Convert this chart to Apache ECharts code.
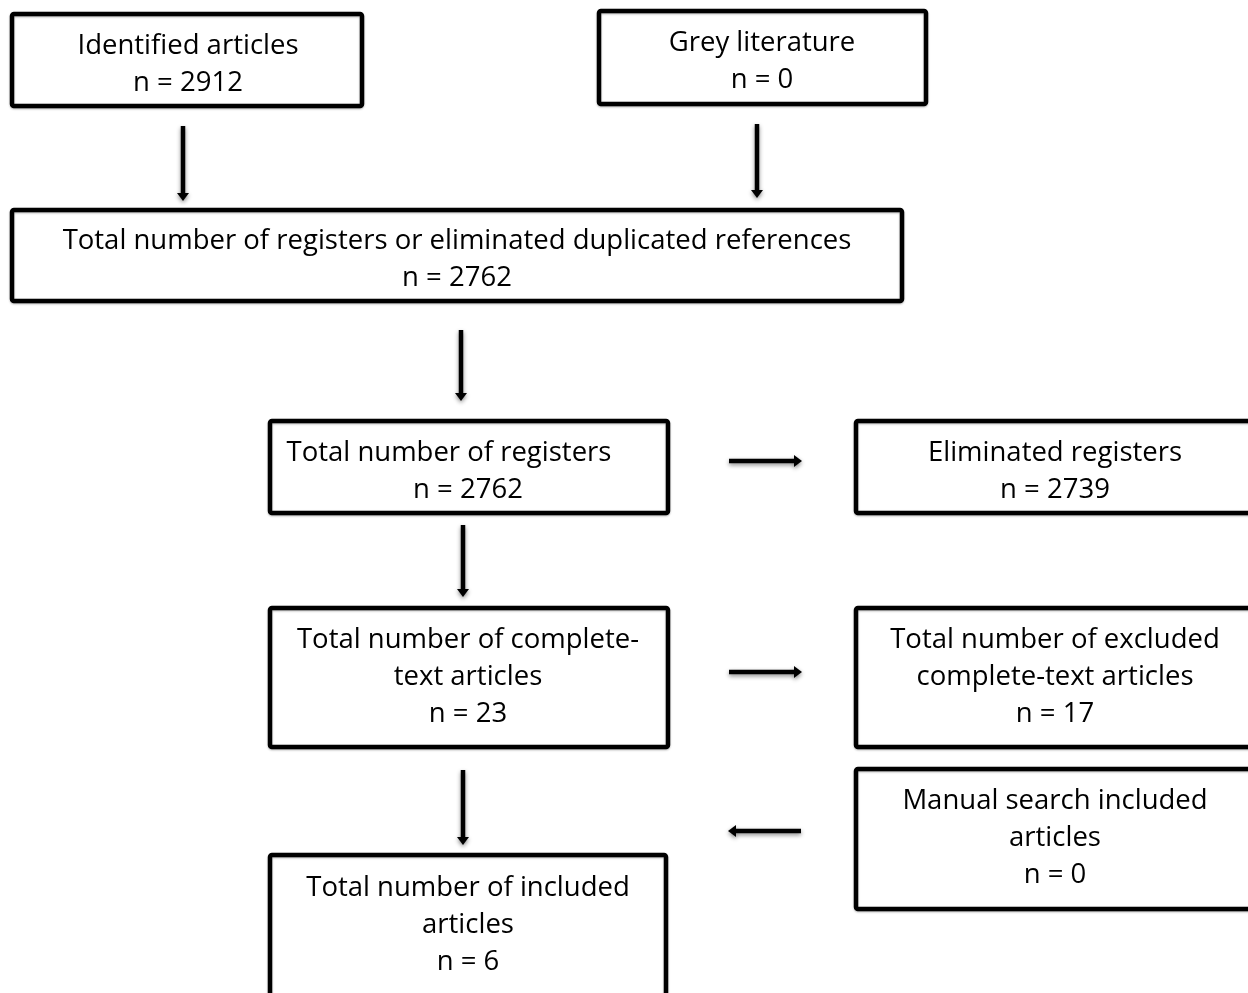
<!DOCTYPE html>
<html><head><meta charset="utf-8">
<script src="https://cdn.jsdelivr.net/npm/echarts@6/dist/echarts.min.js"></script>
<style>html,body{margin:0;padding:0;background:#fff;overflow:hidden}#c{width:1248px;height:993px}</style>
</head><body><div id="c"></div>
<script>
// ---- data ----
const stageTitles = [
  'Identified articles',
  'Grey literature',
  'Total number of registers or eliminated duplicated references',
  'Total number of registers',
  'Eliminated registers',
  'Total number of complete-\ntext articles',
  'Total number of excluded\ncomplete-text articles',
  'Manual search included\narticles',
  'Total number of included\narticles'
];
const stageCounts = [2912, 0, 2762, 2762, 2739, 23, 17, 0, 6];
const flowFrom = [0, 1, 2, 3, 3, 5, 7, 5];
const flowTo   = [2, 2, 3, 4, 5, 6, 8, 8];

// ---- layout (pixel space of the axes) ----
// [x0, y0, x1, y1, textCenterX, firstLineY]
const boxLayout = [
  [10, 12, 364, 108, 188, 46],
  [597, 9, 928, 106, 762, 43],
  [10, 208, 904, 303, 457, 241],
  [268, 419, 670, 515, 468, 453],
  [854, 419, 1262, 515, 1055, 453],
  [268, 606, 670, 749, 468, 640],
  [854, 606, 1262, 749, 1055, 640],
  [854, 767, 1262, 911, 1055, 801],
  [268, 853, 668, 1010, 468, 888]
];
const lineDx = {3: [-19, 0]};
// [xStart, yStart, xEnd, yEnd]
const arrowLayout = [
  [183, 126, 183, 201],
  [757, 124, 757, 198],
  [461, 330, 461, 401],
  [729, 461, 802, 461],
  [463, 525, 463, 597],
  [729, 672, 802, 672],
  [801, 831, 728, 831],
  [463, 770, 463, 845]
];

const FONT = '27.5px "Open Sans", sans-serif';
const LINE_H = 37;

const chart = echarts.init(document.getElementById('c'), null, {renderer: 'canvas'});

function boxItem(params, api) {
  const i = params.dataIndex;
  const L = boxLayout[i];
  const p0 = api.coord([L[0], L[1]]);
  const p1 = api.coord([L[2], L[3]]);
  const lines = (stageTitles[i] + '\nn = ' + stageCounts[i]).split('\n');
  const children = [{
    type: 'rect',
    shape: {x: p0[0] + 2, y: p0[1] + 2, width: p1[0] - p0[0] - 4, height: p1[1] - p0[1] - 4, r: 2},
    style: {fill: '#fff', stroke: '#000', lineWidth: 4.5, shadowBlur: 2, shadowColor: 'rgba(0,0,0,0.3)', shadowOffsetY: 1}
  }];
  lines.forEach((t, k) => {
    const c = api.coord([L[4] + ((lineDx[i] || [])[k] || 0), L[5] + k * LINE_H]);
    children.push({
      type: 'text',
      style: {text: t, x: c[0], y: c[1], align: 'center', verticalAlign: 'middle', font: FONT, fill: '#000'}
    });
  });
  return {type: 'group', children};
}

function arrowItem(params, api) {
  const A = arrowLayout[params.dataIndex];
  const s = api.coord([A[0], A[1]]);
  const e = api.coord([A[2], A[3]]);
  const dx = e[0] - s[0], dy = e[1] - s[1];
  const len = Math.sqrt(dx * dx + dy * dy);
  const ux = dx / len, uy = dy / len;
  const hl = 8, hw = 6;
  const bx = e[0] - ux * hl, by = e[1] - uy * hl;
  const nx = -uy, ny = ux;
  const shadow = {shadowBlur: 4, shadowColor: 'rgba(0,0,0,0.45)', shadowOffsetY: 2, shadowOffsetX: 0};
  return {
    type: 'group',
    children: [
      {type: 'line', shape: {x1: s[0], y1: s[1], x2: bx + ux, y2: by + uy},
       style: Object.assign({stroke: '#000', lineWidth: 4.5}, shadow)},
      {type: 'polygon', shape: {points: [[e[0], e[1]], [bx + nx * hw, by + ny * hw], [bx - nx * hw, by - ny * hw]]},
       style: Object.assign({fill: '#000'}, shadow)}
    ]
  };
}

chart.setOption({
  animation: false,
  backgroundColor: '#fff',
  grid: {left: 0, right: 0, top: 0, bottom: 0},
  xAxis: {type: 'value', min: 0, max: 1248, show: false},
  yAxis: {type: 'value', min: 0, max: 993, inverse: true, show: false},
  series: [
    {type: 'custom', name: 'arrows', clip: false,
     data: flowFrom.map((f, i) => [f, flowTo[i]]), renderItem: arrowItem},
    {type: 'custom', name: 'stages', clip: false,
     data: stageTitles.map((t, i) => [i, stageCounts[i]]), renderItem: boxItem}
  ]
});
</script></body></html>
